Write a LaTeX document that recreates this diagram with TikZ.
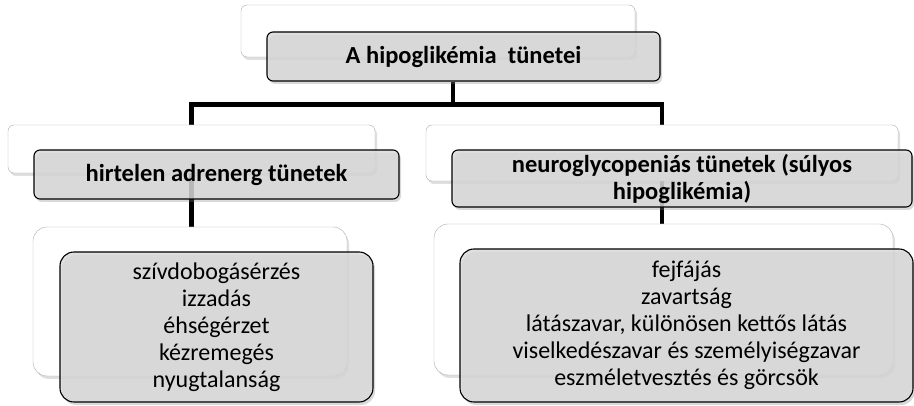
\documentclass[tikz,border=0pt]{standalone}
\usepackage{fontspec}
\setmainfont{Carlito}
\usetikzlibrary{shadows,backgrounds}

\begin{document}
\begin{tikzpicture}[x=1pt,y=-1pt,
    backbox/.style={draw=gray!65, fill=white, rounded corners=6pt,
        drop shadow={shadow xshift=2pt, shadow yshift=-3pt, opacity=0.25}},
    frontbox/.style={draw=black, line width=1.1pt, fill=gray!30, fill opacity=0.82,
        text opacity=1, rounded corners=6pt, align=center,
        drop shadow={shadow xshift=2pt, shadow yshift=-3pt, opacity=0.3}},
    headbox/.style={frontbox, font=\fontsize{24.5}{27}\selectfont\bfseries},
    listbox/.style={rounded corners=14pt},
    conn/.style={line width=4.5pt, line join=miter},
    font=\fontsize{24}{27}\selectfont]
    \useasboundingbox (0,0) rectangle (914,406);

    % Root
    \node[backbox, minimum width=394pt, minimum height=52pt] (rootback) at (438,31) {};
    \node[headbox, minimum width=393pt, minimum height=49pt]
        (root) at (463.5,56.5) {A hipoglikémia\ \ tünetei};

    % Adrenergic branch
    \node[backbox, minimum width=367pt, minimum height=48pt] (adrback) at (191.5,149) {};
    \node[headbox, minimum width=365pt, minimum height=49pt]
        (adr) at (216.5,174.5) {hirtelen adrenerg tünetek};

    % Neuroglycopenic branch
    \node[backbox, minimum width=472pt, minimum height=56pt] (neuroback) at (662,153) {};
    \node[headbox, minimum width=460pt, minimum height=57pt, inner sep=1pt]
        (neuro) at (682,178.5) {neuroglycopeniás tünetek (súlyos\\hipoglikémia)};

    % Symptom lists
    \node[backbox, listbox, minimum width=314pt, minimum height=149pt] (adrlistback) at (190,301.5) {};
    \node[frontbox, listbox, minimum width=313pt, minimum height=150pt] (adrlist) at (216.5,327)
        {szívdobogásérzés\\izzadás\\éhségérzet\\kézremegés\\nyugtalanság};

    \node[backbox, listbox, minimum width=459pt, minimum height=151pt] (neurolistback) at (663.5,299.5) {};
    \node[frontbox, listbox, minimum width=453pt, minimum height=153pt] (neurolist) at (686.5,325.5)
        {fejfájás\\zavartság\\látászavar, különösen kettős látás\\viselkedészavar és személyiségzavar\\eszméletvesztés és görcsök};

    % Connectors behind the boxes
    \coordinate (hub) at (453,104.5);
    \begin{pgfonlayer}{background}
        \draw[conn] (root.south -| hub) -- (hub);
        \draw[conn] (adrback.north) |- (hub) -| (neuroback.north);
        \draw[conn] (adrback.south) -- (adrback.south |- adrlistback.north);
        \draw[conn] (neuroback.south) -- (neuroback.south |- neurolistback.north);
    \end{pgfonlayer}
\end{tikzpicture}
\end{document}
